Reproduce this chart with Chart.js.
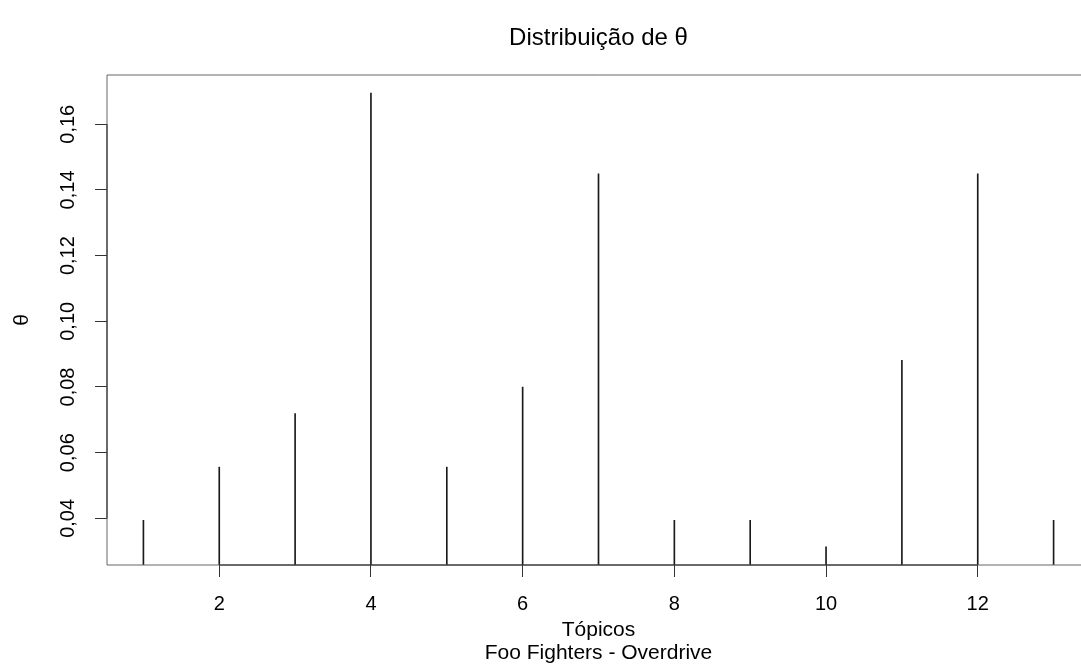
<!DOCTYPE html>
<html>
<head>
<meta charset="utf-8">
<script src="https://cdn.jsdelivr.net/npm/chart.js@4.4.1/dist/chart.umd.min.js"></script>
<style>
  html, body { margin: 0; padding: 0; overflow: hidden; background: #fff; }
  /* the reference plot box runs a little past the right edge of the picture */
  canvas { display: block; }
</style>
</head>
<body>
<canvas id="grafico" width="1100" height="671"></canvas>
<script>
// tópicos e valores de theta
const topicos = [1, 2, 3, 4, 5, 6, 7, 8, 9, 10, 11, 12, 13];
const theta = [0.0394, 0.0556, 0.0719, 0.1695, 0.0556, 0.0800, 0.1449, 0.0394, 0.0394, 0.0313, 0.0881, 0.1449, 0.0394];

// marcas dos eixos
const xTicks = [2, 4, 6, 8, 10, 12];
const yTicks = [0.04, 0.06, 0.08, 0.10, 0.12, 0.14, 0.16];

const fonte = 'Liberation Sans, Arial, Helvetica, sans-serif';

// caixa do gráfico (o lado direito fica fora da imagem) e linhas dos eixos
// do primeiro ao último tick, como no R
const moldura = {
    id: 'moldura',
    afterDatasetsDraw(chart) {
        const { ctx, chartArea: a, scales: { x, y } } = chart;
        ctx.save();
        ctx.lineWidth = 1;
        ctx.strokeStyle = '#666';
        ctx.beginPath();
        ctx.moveTo(a.right, a.top);
        ctx.lineTo(a.left, a.top);
        ctx.lineTo(a.left, a.bottom);
        ctx.lineTo(a.right, a.bottom);
        ctx.stroke();
        ctx.strokeStyle = '#222';
        ctx.beginPath();
        ctx.moveTo(x.getPixelForValue(xTicks[0]), a.bottom);
        ctx.lineTo(x.getPixelForValue(xTicks[xTicks.length - 1]), a.bottom);
        ctx.moveTo(a.left, y.getPixelForValue(yTicks[0]));
        ctx.lineTo(a.left, y.getPixelForValue(yTicks[yTicks.length - 1]));
        ctx.stroke();
        ctx.restore();
    }
};

const ctx = document.getElementById('grafico').getContext('2d');
new Chart(ctx, {
    type: 'bar',
    data: {
        datasets: [{
            label: 'θ',
            data: topicos.map((t, i) => ({ x: t, y: theta[i] })),
            backgroundColor: '#1a1a1a',
            borderWidth: 0,
            barThickness: 1
        }]
    },
    options: {
        responsive: false,
        animation: false,
        layout: { padding: { left: 0, right: 10, top: 0, bottom: 0 } },
        plugins: {
            legend: { display: false },
            tooltip: { enabled: false },
            title: {
                display: true,
                text: 'Distribuição de θ',
                fullSize: false,
                color: '#000',
                font: { family: fonte, size: 24, weight: 'normal', lineHeight: 1.2 },
                padding: { top: 23.6, bottom: 22.6 }
            }
        },
        scales: {
            x: {
                type: 'linear',
                offset: false,
                min: 0.52,
                max: 13.48,
                afterBuildTicks: s => { s.ticks = xTicks.map(v => ({ value: v })); },
                afterFit: s => { s.height = 106; },
                border: { display: false },
                grid: { offset: false, drawOnChartArea: false, drawTicks: true, tickLength: 12, tickColor: '#333', tickWidth: 1 },
                ticks: {
                    color: '#000',
                    padding: 15,
                    maxRotation: 0,
                    font: { family: fonte, size: 20 }
                },
                title: {
                    display: true,
                    text: ['Tópicos', 'Foo Fighters - Overdrive'],
                    color: '#000',
                    font: { family: fonte, size: 21, lineHeight: 1.1 },
                    padding: { top: 0, bottom: 6.3 }
                }
            },
            y: {
                min: 0.0258,
                max: 0.1750,
                afterBuildTicks: s => { s.ticks = yTicks.map(v => ({ value: v })); },
                afterFit: s => { s.width = 107; },
                border: { display: false },
                grid: { drawOnChartArea: false, drawTicks: true, tickLength: 12, tickColor: '#333', tickWidth: 1 },
                ticks: {
                    color: '#000',
                    minRotation: 90,
                    maxRotation: 90,
                    crossAlign: 'center',
                    padding: 7.5,
                    font: { family: fonte, size: 20 },
                    callback: v => v.toFixed(2).replace('.', ',')
                },
                title: {
                    display: true,
                    text: 'θ',
                    color: '#000',
                    font: { family: fonte, size: 21, lineHeight: 1.2 },
                    padding: { top: 9.5, bottom: 0 }
                }
            }
        }
    },
    plugins: [moldura]
});
</script>
</body>
</html>
